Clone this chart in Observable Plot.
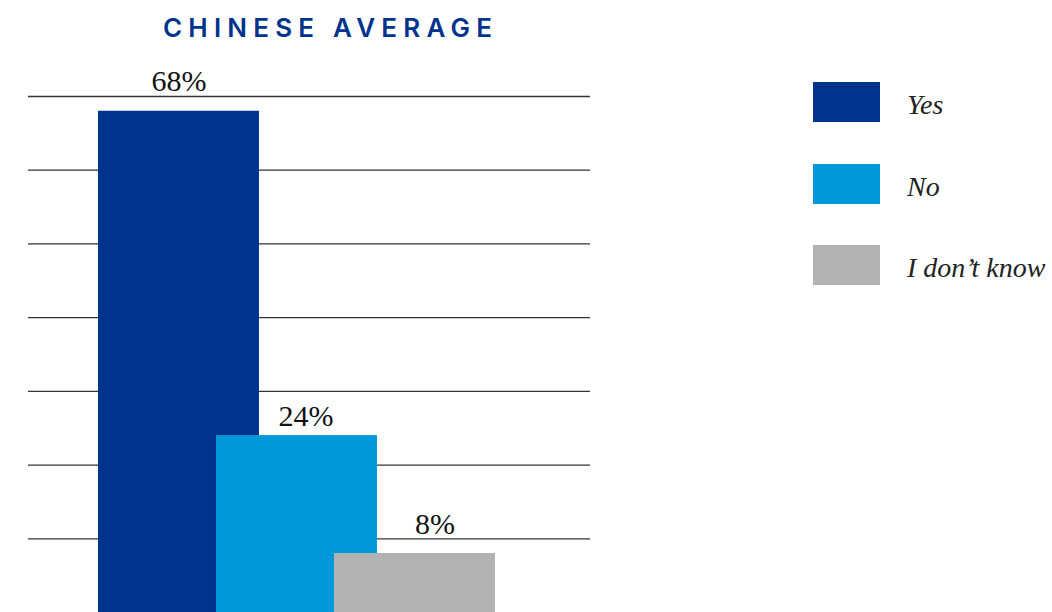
<!DOCTYPE html>
<html>
<head>
<meta charset="utf-8">
<script src="https://cdn.jsdelivr.net/npm/d3@7"></script>
<script src="https://cdn.jsdelivr.net/npm/@observablehq/plot@0.6"></script>
<style>
  html, body { margin: 0; padding: 0; background: #fff; }
  #wrap { position: relative; width: 1052px; height: 612px; overflow: hidden; }
  #title { position: absolute; left: 163px; top: 11px; white-space: nowrap;
    font-family: Inter, "Open Sans", sans-serif; font-weight: 600; font-size: 26px;
    letter-spacing: 3px; color: #00338d; line-height: 34px; }
  #chart { position: absolute; left: 0; top: 55px; }
  #legend { position: absolute; left: 813px; top: 82px; }
  .row { display: flex; align-items: center; height: 40px; margin-bottom: 41.5px; }
  .sw { width: 67px; height: 40px; }
  .lab { margin-left: 27px; font-family: "Liberation Serif", "Times New Roman", serif; font-style: italic;
    font-size: 28px; color: #222; padding-top: 6px; white-space: nowrap; }
</style>
</head>
<body>
<div id="wrap">
  <div id="title"><span id="tt">CHINESE AVERAGE</span></div>
  <div id="chart"></div>
  <div id="legend"></div>
</div>
<script>
const title = "CHINESE AVERAGE";
const categories = ["Yes", "No", "I don\u2019t know"];
const values = [68, 24, 8];
const colors = ["#00338d", "#0098db", "#b2b2b2"];
const gridTicks = [10, 20, 30, 40, 50, 60, 70];

const data = categories.map((c, i) => ({category: c, value: values[i], i}));
const barSpan = 161 / 118;       // bars overlap: width relative to step
const labelDx = [0, 9, 20];
const labelDy = [-20, -10, -20];
const serif = "'Liberation Serif', 'Times New Roman', serif";

const chart = Plot.plot({
  width: 620,
  height: 557,
  marginLeft: 28,
  marginRight: 30,
  marginTop: 41,
  marginBottom: 0,
  x: {domain: [-0.593, 4.17], axis: null},
  y: {domain: [0, 70], axis: null},
  color: {domain: categories, range: colors},
  marks: [
    Plot.ruleY(gridTicks, {stroke: "#333", strokeWidth: 1.3}),
    Plot.rectY(data, {x1: d => d.i, x2: d => d.i + barSpan, y: "value", fill: "category"}),
    ...data.map((d, k) => Plot.text([d], {
      x: d => d.i + barSpan / 2, y: "value", text: d => d.value + "%",
      dx: labelDx[k], dy: labelDy[k], lineAnchor: "bottom",
      fontSize: 30, fontFamily: serif, fill: "#111"
    }))
  ]
});
document.getElementById("chart").appendChild(chart);

const tt = document.getElementById("tt");
tt.textContent = title;
// fit letter spacing so the title spans the same width as in the reference
const target = 329;
tt.style.letterSpacing = "0px";
const w0 = tt.getBoundingClientRect().width;
tt.style.letterSpacing = ((target - w0) / (title.length - 1)) + "px";

const legend = document.getElementById("legend");
categories.forEach((c, i) => {
  const row = document.createElement("div");
  row.className = "row";
  const sw = document.createElement("div");
  sw.className = "sw";
  sw.style.background = colors[i];
  const lab = document.createElement("div");
  lab.className = "lab";
  lab.textContent = c;
  row.appendChild(sw); row.appendChild(lab);
  legend.appendChild(row);
});
</script>
</body>
</html>
